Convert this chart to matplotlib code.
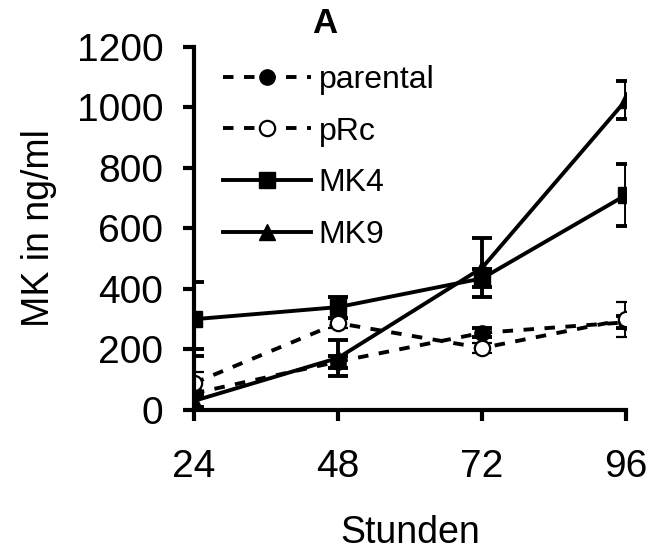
import matplotlib
matplotlib.use('Agg')
import matplotlib.pyplot as plt

# Daten
stunden = [24, 48, 72, 96]
parental = [55, 160, 255, 290]
parental_err = [145, 20, 15, 20]
prc = [89, 287, 205, 300]
prc_err = [35, 15, 15, 58]
mk4 = [300, 340, 435, 711]
mk4_err = [122, 35, 30, 103]
mk9 = [30, 172, 470, 1025]
mk9_err = [20, 60, 98, 62]

plt.rcParams['font.family'] = ['Liberation Sans', 'DejaVu Sans']

fig = plt.figure(figsize=(6.53, 5.56), dpi=100)
ax = fig.add_axes([0.297, 0.2626, 0.662, 0.653])

lw = 2.8
gemeinsam = dict(color='black', linewidth=lw, elinewidth=lw, capsize=7,
                 capthick=lw)

c1 = ax.errorbar(stunden, parental, yerr=parental_err, marker='o', markersize=11,
                 markerfacecolor='black', dashes=(2.7, 2.7), label='parental', **gemeinsam)
c2 = ax.errorbar(stunden, prc, yerr=prc_err, marker='o', markersize=11,
                 markerfacecolor='white', markeredgewidth=1.6, dashes=(2.7, 2.7),
                 label='pRc', **gemeinsam)
c3 = ax.errorbar(stunden, mk4, yerr=mk4_err, marker='s', markersize=11,
                 markerfacecolor='black', label='MK4', **gemeinsam)
c4 = ax.errorbar(stunden, mk9, yerr=mk9_err, marker='^', markersize=12,
                 markerfacecolor='black', label='MK9', **gemeinsam)

ax.set_xlim(24, 96)
ax.set_ylim(0, 1200)
ax.set_xticks(stunden)
ax.set_yticks(range(0, 1201, 200))

for s in ['top', 'right']:
    ax.spines[s].set_visible(False)
for s in ['left', 'bottom']:
    ax.spines[s].set_linewidth(3)
ax.tick_params(direction='out', length=8, width=3, labelsize=28)
ax.tick_params(axis='y', pad=14)
ax.tick_params(axis='x', pad=20)

ax.set_xlabel('Stunden', fontsize=27, labelpad=22)
ax.set_ylabel('MK in ng/ml', fontsize=27, labelpad=14)

fig.text(0.497, 0.958, 'A', fontsize=25, fontweight='bold', ha='center', va='center')

ax.legend(handles=[c1[0], c2[0], c3[0], c4[0]],
          labels=['parental', 'pRc', 'MK4', 'MK9'],
          loc='upper left', bbox_to_anchor=(0.0, 1.03), frameon=False,
          fontsize=23, handlelength=2.75, handletextpad=0.25, labelspacing=0.68,
          borderaxespad=0.5)

plt.savefig('out.png', dpi=100)
plt.close()
